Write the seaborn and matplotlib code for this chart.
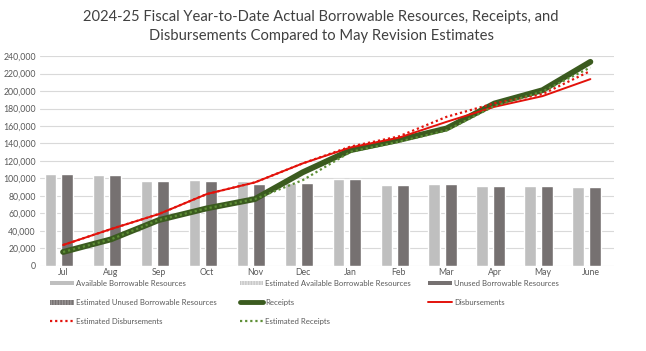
import matplotlib
matplotlib.use("Agg")
import matplotlib.pyplot as plt
import matplotlib.patches as mpatches
import matplotlib.lines as mlines
import numpy as np
import pandas as pd
import seaborn as sns

months = ['Jul', 'Aug', 'Sep', 'Oct', 'Nov', 'Dec', 'Jan', 'Feb', 'Mar', 'Apr', 'May', 'June']
available = [105000, 104200, 97300, 98400, 97300, 95000, 99200, 92300, 93100, 91600, 91600, 90100]
unused = [105000, 104200, 97300, 97300, 93100, 94500, 99200, 92300, 93100, 91600, 91600, 90100]
receipts = [15700, 30200, 52300, 65700, 76300, 107000, 132400, 143900, 157200, 185800, 201000, 233500]
disbursements = [23700, 42000, 59200, 82100, 95400, 117200, 135500, 146500, 164800, 182000, 194200, 213700]
est_disbursements = [23700, 42000, 59200, 82100, 95400, 117200, 136500, 148000, 170500, 186000, 196500, 223000]
est_receipts = [15700, 30200, 52300, 65700, 76300, 98000, 130500, 142000, 155000, 183000, 199500, 227000]
yticks = list(range(0, 240001, 20000))

sns.set_theme(style="white")
plt.rcParams['font.family'] = ['Lato', 'DejaVu Sans']

fig = plt.figure(figsize=(6.46, 3.51), dpi=100)
ax = fig.add_axes([0.062, 0.243, 0.889, 0.597])

idx = np.arange(len(months))
df = pd.DataFrame({'idx': idx, 'month': months, 'available': available, 'unused': unused,
                   'receipts': receipts, 'disb': disbursements,
                   'est_disb': est_disbursements, 'est_rec': est_receipts})

ax.bar(idx - 0.26, df['available'], width=0.235, color='#BFBFBF', zorder=2)
ax.bar(idx + 0.09, df['unused'], width=0.25, color='#767171', zorder=2)

sns.lineplot(data=df, x='idx', y='receipts', ax=ax, color='#3B5B1F', linewidth=4.2,
             zorder=3, solid_capstyle='round')
sns.lineplot(data=df, x='idx', y='disb', ax=ax, color='#E3120B', linewidth=1.4, zorder=4)
sns.lineplot(data=df, x='idx', y='est_disb', ax=ax, color='#E3120B', linewidth=1.6,
             linestyle=(0, (1, 1.3)), zorder=5)
sns.lineplot(data=df, x='idx', y='est_rec', ax=ax, color='#5E8F36', linewidth=1.6,
             linestyle=(0, (1, 1.3)), zorder=6)

ax.set_xlim(-0.48, 11.5)
ax.set_ylim(0, 240000)
ax.set_yticks(yticks)
ax.set_yticklabels([f"{v:,}" for v in yticks])
ax.set_xticks(idx)
ax.set_xticklabels(months)
ax.tick_params(axis='both', labelsize=6.3, colors='#595959', length=0)
ax.tick_params(axis='x', pad=2)
ax.tick_params(axis='y', pad=3)
ax.set_xlabel('')
ax.set_ylabel('')
ax.grid(axis='y', color='#D9D9D9', linewidth=0.8, zorder=0)
ax.set_axisbelow(True)
for s in ax.spines.values():
    s.set_visible(False)

fig.suptitle("2024-25 Fiscal Year-to-Date Actual Borrowable Resources, Receipts, and\n"
             "Disbursements Compared to May Revision Estimates",
             x=0.497, y=0.972, fontsize=10.6, color='#404040', linespacing=1.45)

h_avail = mpatches.Patch(facecolor='#BFBFBF', edgecolor='none', label='Available Borrowable Resources')
h_est_avail = mpatches.Patch(facecolor='#E0E0E0', edgecolor='#C8C8C8', hatch='||||||', linewidth=0,
                             label='Estimated Available Borrowable Resources')
h_unused = mpatches.Patch(facecolor='#767171', edgecolor='none', label='Unused Borrowable Resources')
h_est_unused = mpatches.Patch(facecolor='#767171', edgecolor='#9A9696', hatch='||||||', linewidth=0,
                              label='Estimated Unused Borrowable Resources')
h_rec = mlines.Line2D([], [], color='#3B5B1F', linewidth=3.5, label='Receipts')
h_disb = mlines.Line2D([], [], color='#E3120B', linewidth=1.4, label='Disbursements')
h_est_disb = mlines.Line2D([], [], color='#E3120B', linewidth=1.6, linestyle=(0, (1, 1.3)),
                           label='Estimated Disbursements')
h_est_rec = mlines.Line2D([], [], color='#5E8F36', linewidth=1.6, linestyle=(0, (1, 1.3)),
                          label='Estimated Receipts')

cols = [([h_avail, h_est_unused, h_est_disb], 0.078),
        ([h_est_avail, h_rec, h_est_rec], 0.371),
        ([h_unused, h_disb], 0.663)]
for handles, xpos in cols:
    leg = fig.legend(handles=handles, loc='upper left', bbox_to_anchor=(xpos, 0.203),
                     frameon=False, fontsize=5.6, handlelength=3.0, handleheight=0.6,
                     handletextpad=0.3, labelspacing=1.55, borderaxespad=0, borderpad=0)
    for t in leg.get_texts():
        t.set_color('#595959')

fig.savefig('out.png', dpi=100, facecolor='white')
